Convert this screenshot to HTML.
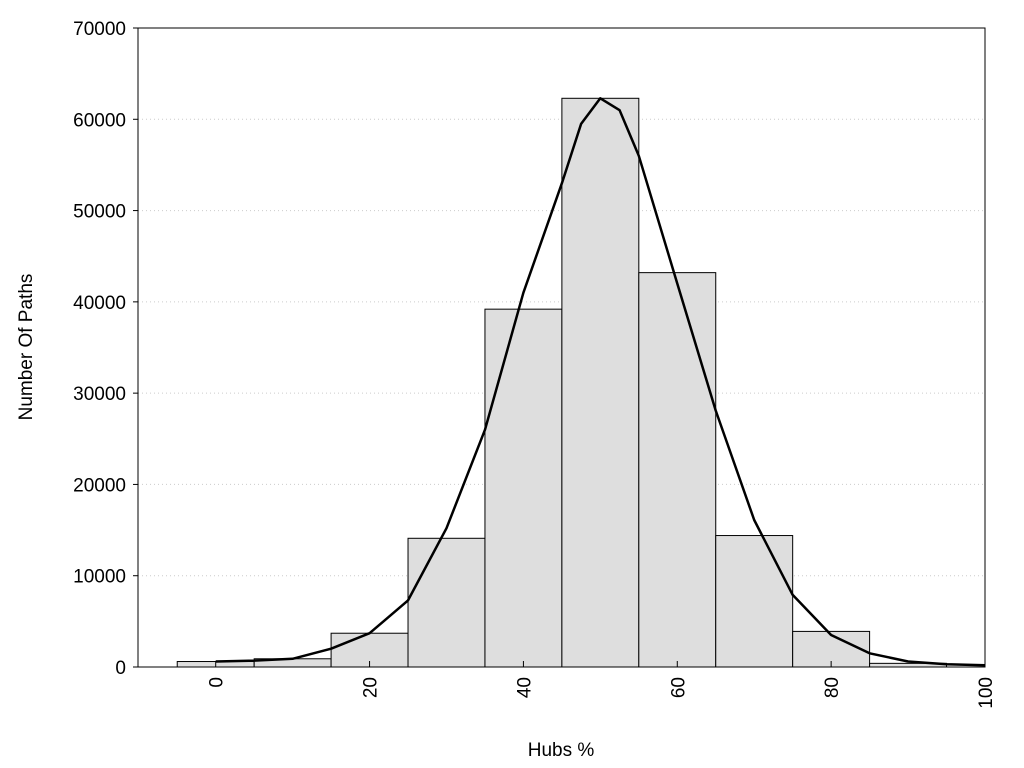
<!DOCTYPE html>
<html><head><meta charset="utf-8"><style>body{margin:0;background:#fff}svg{display:block;font-family:"Liberation Sans",sans-serif}</style></head>
<body>
<svg id="chart" width="1024" height="768" xmlns="http://www.w3.org/2000/svg">
<g id="grid"></g><g id="bars"></g><g id="curve"></g><g id="axes"></g>
</svg>
<script>
const binCenters = [0,10,20,30,40,50,60,70,80,90];
const binCounts = [600,900,3700,14100,39200,62300,43200,14400,3900,400];
const curveX = [0,5,10,15,20,25,30,35,40,45,47.5,50,52.5,55,60,65,70,75,80,85,90,95,100];
const curveY = [600,700,900,2000,3700,7300,15200,26000,41000,53000,59500,62300,61000,56000,42000,28100,16100,7900,3500,1500,600,300,200];
const yTicks = [0,10000,20000,30000,40000,50000,60000,70000];
const xTicks = [0,20,40,60,80,100];
const L=138,R=985,T=28,B=667, xmin=-10.1, xmax=100, ymax=70000;
const sx=v=>L+(v-xmin)/(xmax-xmin)*(R-L);
const sy=v=>B-v/ymax*(B-T);
const NS="http://www.w3.org/2000/svg";
function mk(parent,tag,attrs){const e=document.createElementNS(NS,tag);for(const k in attrs)e.setAttribute(k,attrs[k]);document.getElementById(parent).appendChild(e);return e;}
yTicks.forEach(v=>{if(v>0&&v<ymax){const g=mk('grid','line',{x1:L,x2:R,y1:sy(v),y2:sy(v),stroke:'#ccc','stroke-dasharray':'1,3'});

}});
binCenters.forEach((c,i)=>{const r=mk('bars','rect',{x:sx(c-5),y:sy(binCounts[i]),width:sx(c+5)-sx(c-5),height:B-sy(binCounts[i]),fill:'#dedede',stroke:'#000','stroke-width':1});

});
const p=mk('curve','path',{d:curveX.map((x,i)=>(i?'L':'M')+sx(x).toFixed(1)+','+sy(curveY[i]).toFixed(1)).join(''),fill:'none',stroke:'#000','stroke-width':2.5,'stroke-linejoin':'round'});


const f=mk('axes','rect',{x:L,y:T,width:R-L,height:B-T,fill:'none',stroke:'#000','stroke-width':1});


yTicks.forEach(v=>{const t=mk('axes','text',{x:L-12,y:sy(v)+7,'text-anchor':'end','font-size':19});t.textContent=v;


const tk=mk('axes','line',{x1:L-5,x2:L,y1:sy(v),y2:sy(v),stroke:'#000'});

});
xTicks.forEach(v=>{const x=sx(v);const t=mk('axes','text',{transform:`translate(${x+7},677) rotate(-90)`,'text-anchor':'end','font-size':19});t.textContent=v;


const tk=mk('axes','line',{x1:x,x2:x,y1:B,y2:B-6,stroke:'#000'});

});
const xt=mk('axes','text',{x:561,y:756,'text-anchor':'middle','font-size':19});xt.textContent='Hubs %';


const yt=mk('axes','text',{transform:'translate(32,347) rotate(-90)','text-anchor':'middle','font-size':19});yt.textContent='Number Of Paths';


</script>
</body></html>
